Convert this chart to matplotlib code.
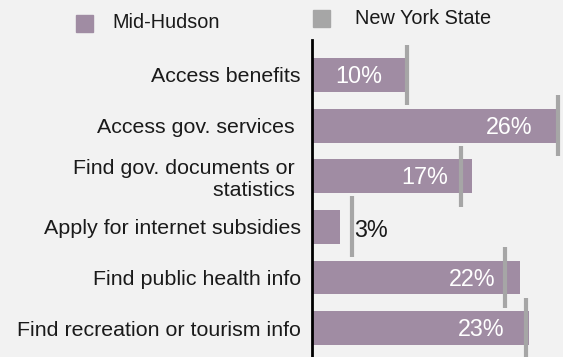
import matplotlib
matplotlib.use("Agg")
import matplotlib.pyplot as plt
from matplotlib.patches import Rectangle
import numpy as np

plt.rcParams['font.family'] = ['Liberation Sans', 'DejaVu Sans']

# survey data: share of residents using the internet for each purpose
categories = [
    "Access benefits",
    "Access gov. services ",
    "Find gov. documents or \nstatistics ",
    "Apply for internet subsidies",
    "Find public health info",
    "Find recreation or tourism info",
]
mid_hudson = [10, 26, 17, 3, 22, 23]
new_york_state = [10.1, 26.1, 15.8, 4.2, 20.5, 22.7]

BG = "#f2f2f2"
BAR = "#a08ca3"
NYS = "#a6a6a6"
TXT = "#1a1a1a"

fig = plt.figure(figsize=(5.63, 3.57), dpi=100, facecolor=BG)
ax = fig.add_axes([312 / 563, 0, 251 / 563, 1 - 40 / 357])
ax.set_facecolor(BG)

y = np.arange(len(categories))
ax.barh(y, mid_hudson, height=0.67, color=BAR, zorder=2)

# state-wide comparison shown as a tall tick over each bar
for yi, v in zip(y, new_york_state):
    ax.plot([v, v], [yi - 0.6, yi + 0.6], color=NYS, lw=3, solid_capstyle="butt", zorder=3)

# value labels: white inside the bar, black beside short bars
for yi, v, n in zip(y, mid_hudson, new_york_state):
    if v > 6:
        ax.text(v - 2.6, yi + 0.03, f"{v}%", ha="right", va="center",
                color="white", fontsize=16.8, zorder=4)
    else:
        ax.text(max(v, n) + 0.25, yi + 0.08, f"{v}%", ha="left", va="center",
                color=TXT, fontsize=16.8, zorder=4)

ax.set_xlim(0, 26.6)
ax.set_ylim(5.57, -0.69)
ax.set_yticks(y)
ax.set_yticklabels(categories, fontsize=15.4, color=TXT)
ax.tick_params(axis="y", length=0, pad=8)
ax.set_xticks([])
for side in ["top", "right", "bottom"]:
    ax.spines[side].set_visible(False)
ax.spines["left"].set_color("black")
ax.spines["left"].set_linewidth(2)
ax.spines["left"].set_zorder(5)

# legend drawn by hand along the top
fig.patches.append(Rectangle((76 / 563, 1 - 32 / 357), 17 / 563, 17 / 357,
                             transform=fig.transFigure, color=BAR))
fig.text(112 / 563, 1 - 22 / 357, "Mid-Hudson", fontsize=14.3, color=TXT, va="center")
fig.patches.append(Rectangle((313 / 563, 1 - 27 / 357), 17 / 563, 17 / 357,
                             transform=fig.transFigure, color=NYS))
fig.text(355 / 563, 1 - 19 / 357, "New York State", fontsize=14.3, color=TXT, va="center")

fig.savefig("out.png", dpi=100, facecolor=BG)
